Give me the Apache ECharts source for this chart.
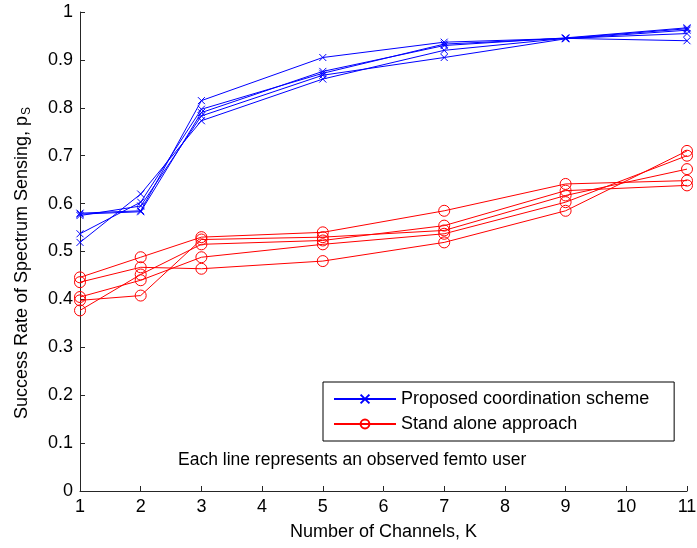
<!DOCTYPE html>
<html>
<head>
<meta charset="utf-8">
<script src="https://cdn.jsdelivr.net/npm/echarts@6/dist/echarts.min.js"></script>
<style>
  html, body { margin: 0; padding: 0; background: #ffffff; }
  #chart { width: 697px; height: 548px; }
</style>
</head>
<body>
<div id="chart"></div>
<script>
// Number of channels K at which each femto user was observed
const channels = [1, 2, 3, 5, 7, 9, 11];

// Success rate per femto user, proposed coordination scheme
const proposedUser1 = [0.580, 0.585, 0.815, 0.905, 0.937, 0.945, 0.940];
const proposedUser2 = [0.578, 0.583, 0.790, 0.876, 0.930, 0.946, 0.967];
const proposedUser3 = [0.575, 0.595, 0.783, 0.868, 0.905, 0.944, 0.962];
const proposedUser4 = [0.537, 0.603, 0.797, 0.872, 0.933, 0.945, 0.965];
const proposedUser5 = [0.519, 0.620, 0.773, 0.860, 0.920, 0.945, 0.955];

// Success rate per femto user, stand alone approach
const standAloneUser1 = [0.446, 0.488, 0.530, 0.540, 0.585, 0.641, 0.648];
const standAloneUser2 = [0.436, 0.467, 0.464, 0.480, 0.519, 0.585, 0.710];
const standAloneUser3 = [0.405, 0.440, 0.488, 0.515, 0.537, 0.603, 0.700];
const standAloneUser4 = [0.398, 0.408, 0.525, 0.530, 0.544, 0.617, 0.672];
const standAloneUser5 = [0.377, 0.452, 0.515, 0.523, 0.554, 0.627, 0.638];

const proposedUsers = [proposedUser1, proposedUser2, proposedUser3, proposedUser4, proposedUser5];
const standAloneUsers = [standAloneUser1, standAloneUser2, standAloneUser3, standAloneUser4, standAloneUser5];

const PROPOSED = 'Proposed coordination scheme';
const STAND_ALONE = 'Stand alone approach';
const NOTE = 'Each line represents an observed femto user';
const X_TITLE = 'Number of Channels, K';
const Y_TITLE = 'Success Rate of Spectrum Sensing, p{sub|S}';

const FONT = "'Liberation Sans', Arial, Helvetica, sans-serif";
const BLUE = '#0000ff';
const RED = '#ff0000';
const CROSS = 'path://M0,0L10,10M10,0L0,10';

function toPairs(values) {
  return channels.map((k, i) => [k, values[i]]);
}

function makeSeries(name, values, color, symbol, size) {
  return {
    type: 'line',
    name: name,
    data: toPairs(values),
    symbol: symbol,
    symbolSize: size,
    showAllSymbol: true,
    animation: false,
    lineStyle: { color: color, width: 1 },
    itemStyle: { color: 'rgba(0,0,0,0)', borderColor: color, borderWidth: 1 },
    emphasis: { disabled: true }
  };
}

const series = [];
proposedUsers.forEach(v => series.push(makeSeries(PROPOSED, v, BLUE, CROSS, 7)));
standAloneUsers.forEach(v => series.push(makeSeries(STAND_ALONE, v, RED, 'circle', 11)));

const axisCommon = {
  axisLine: { show: true, onZero: false, lineStyle: { color: '#262626', width: 1 } },
  axisTick: { show: true, inside: true, length: 5, lineStyle: { color: '#262626' } },
  splitLine: { show: false },
  axisLabel: { color: '#000', fontFamily: FONT, fontSize: 18, margin: 7 },
  nameTextStyle: { color: '#000', fontFamily: FONT, fontSize: 18 }
};

const chart = echarts.init(document.getElementById('chart'), null, { renderer: 'canvas' });
chart.setOption({
  backgroundColor: '#ffffff',
  animation: false,
  textStyle: { fontFamily: FONT },
  grid: { left: 80, right: 10, top: 12, bottom: 57, containLabel: false, outerBoundsMode: 'none' },
  xAxis: Object.assign({}, axisCommon, {
    type: 'value',
    min: 1, max: 11, interval: 1,
    name: X_TITLE,
    nameLocation: 'middle',
    nameGap: 32
  }),
  yAxis: Object.assign({}, axisCommon, {
    type: 'value',
    min: 0, max: 1, interval: 0.1
  }),
  legend: {
    show: true,
    selectedMode: false,
    orient: 'vertical',
    left: 323, top: 382,
    padding: [8, 25, 8, 10],
    itemGap: 7,
    itemWidth: 62,
    itemHeight: 11,
    backgroundColor: '#ffffff',
    borderColor: '#000000',
    borderWidth: 1,
    borderRadius: 0,
    textStyle: { color: '#000', fontFamily: FONT, fontSize: 18 },
    data: [{ name: PROPOSED }, { name: STAND_ALONE }]
  },
  graphic: [
    {
      // vertical axis title with subscripted S
      type: 'text',
      x: 22, y: 263,
      rotation: Math.PI / 2,
      style: {
        text: Y_TITLE,
        fill: '#000',
        font: '18px ' + FONT,
        align: 'center',
        verticalAlign: 'middle',
        rich: { sub: { fontFamily: FONT, fontSize: 12, fill: '#000', padding: [9, 0, 0, 1] } }
      }
    },
    {
      type: 'text',
      left: 178, top: 451,
      style: { text: NOTE, fill: '#000', font: '17.5px ' + FONT }
    }
  ],
  series: series
});
</script>
</body>
</html>
